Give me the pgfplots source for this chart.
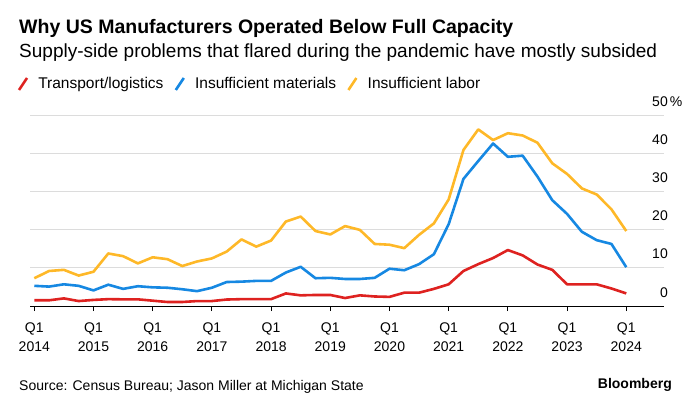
\documentclass[border=0pt]{standalone}
\usepackage{fontspec}
\setmainfont{Liberation Sans}
\usepackage{pgfplots}
\pgfplotsset{compat=1.18}
\definecolor{bred}{RGB}{222,34,32}
\definecolor{bblue}{RGB}{22,136,226}
\definecolor{byellow}{RGB}{254,184,40}
\definecolor{bgrid}{RGB}{220,220,220}
\begin{document}
\begin{tikzpicture}
\path[use as bounding box] (0,0) rectangle (696bp,-408bp);
\node[anchor=base west, inner sep=0] at (19bp,-33bp) {\fontsize{19.5bp}{22bp}\selectfont\bfseries Why US Manufacturers Operated Below Full Capacity};
\node[anchor=base west, inner sep=0] at (19bp,-57bp) {\fontsize{19bp}{21bp}\selectfont Supply-side problems that flared during the pandemic have mostly subsided};
\node[anchor=base west, inner sep=0] at (19bp,-390bp) {\fontsize{14bp}{16bp}\selectfont Source: Census Bureau; Jason Miller at Michigan State};
\node[anchor=base east, inner sep=0] at (672bp,-388bp) {\fontsize{14bp}{16bp}\selectfont\bfseries Bloomberg};
\begin{axis}[
  at={(30bp,-306bp)}, anchor=south west,
  scale only axis, width=634bp, height=190.3bp,
  xmin=-0.29, xmax=42.55, ymin=0, ymax=50,
  axis x line*=bottom, axis y line*=right,
  x axis line style={black, line width=0.9bp, -},
  y axis line style={draw=none},
  xtick={0,4,...,40},
  xticklabels={Q1\\2014,Q1\\2015,Q1\\2016,Q1\\2017,Q1\\2018,Q1\\2019,Q1\\2020,Q1\\2021,Q1\\2022,Q1\\2023,Q1\\2024},
  xticklabel style={align=center, font=\fontsize{14bp}{18.7bp}\selectfont, inner sep=0, yshift=-12bp},
  tick align=outside, major tick length=5bp,
  xtick style={black, line width=0.8bp},
  ytick={0,10,20,30,40,50},
  yticklabels={0,10,20,30,40,50\rlap{\kern2bp\%}},
  ymajorgrids, grid style={bgrid, line width=0.9bp},
  ytick style={draw=none},
  yticklabel style={anchor=base east, inner sep=0, xshift=-1bp, yshift=9bp, font=\fontsize{14bp}{16bp}\selectfont},
  clip=false,
  legend style={at={(-0.0197,1.1666)}, anchor=west, draw=none, fill=none, inner sep=0,
    nodes={inner sep=0pt},
    font=\fontsize{15.5bp}{17bp}\selectfont, legend columns=3,
    /tikz/every odd column/.append style={column sep=10bp},
    /tikz/every even column/.append style={column sep=11bp}},
  legend image code/.code={\draw[#1, line width=2.6bp] (0bp,-6bp) -- (8bp,6bp);},
  every axis plot/.append style={line width=2.6bp, line join=round},
]
\addplot[bred, no marks] coordinates {
(0,1.5)(1,1.5)(2,2.0)(3,1.3)(4,1.6)(5,1.8)(6,1.75)(7,1.75)(8,1.4)(9,1.05)(10,1.05)(11,1.3)(12,1.3)(13,1.7)(14,1.8)(15,1.8)(16,1.8)(17,3.3)(18,2.8)(19,2.9)(20,2.9)(21,2.1)(22,2.8)(23,2.5)(24,2.4)(25,3.5)(26,3.5)(27,4.5)(28,5.7)(29,9.2)(30,11.0)(31,12.6)(32,14.7)(33,13.3)(34,10.9)(35,9.5)(36,5.7)(37,5.7)(38,5.7)(39,4.6)(40,3.3)};
\addlegendentry{Transport/logistics}
\addplot[bblue, no marks] coordinates {
(0,5.3)(1,5.1)(2,5.7)(3,5.3)(4,4.1)(5,5.6)(6,4.5)(7,5.2)(8,4.9)(9,4.8)(10,4.4)(11,3.9)(12,4.8)(13,6.3)(14,6.4)(15,6.6)(16,6.6)(17,8.8)(18,10.3)(19,7.3)(20,7.4)(21,7.1)(22,7.1)(23,7.4)(24,9.8)(25,9.4)(26,11.0)(27,13.6)(28,21.5)(29,33.4)(30,38.1)(31,42.7)(32,39.2)(33,39.5)(34,34.0)(35,27.8)(36,24.2)(37,19.5)(38,17.3)(39,16.3)(40,10.2)};
\addlegendentry{Insufficient materials}
\addplot[byellow, no marks] coordinates {
(0,7.3)(1,9.2)(2,9.5)(3,8.0)(4,9.0)(5,13.8)(6,13.1)(7,11.2)(8,12.8)(9,12.3)(10,10.5)(11,11.7)(12,12.5)(13,14.3)(14,17.5)(15,15.6)(16,17.2)(17,22.2)(18,23.5)(19,19.7)(20,18.8)(21,21.0)(22,20.0)(23,16.3)(24,16.1)(25,15.2)(26,18.7)(27,21.7)(28,28.0)(29,41.0)(30,46.4)(31,43.6)(32,45.4)(33,44.8)(34,42.9)(35,37.5)(36,34.7)(37,30.9)(38,29.3)(39,25.4)(40,19.7)};
\addlegendentry{Insufficient labor}
\end{axis}
\end{tikzpicture}
\end{document}
